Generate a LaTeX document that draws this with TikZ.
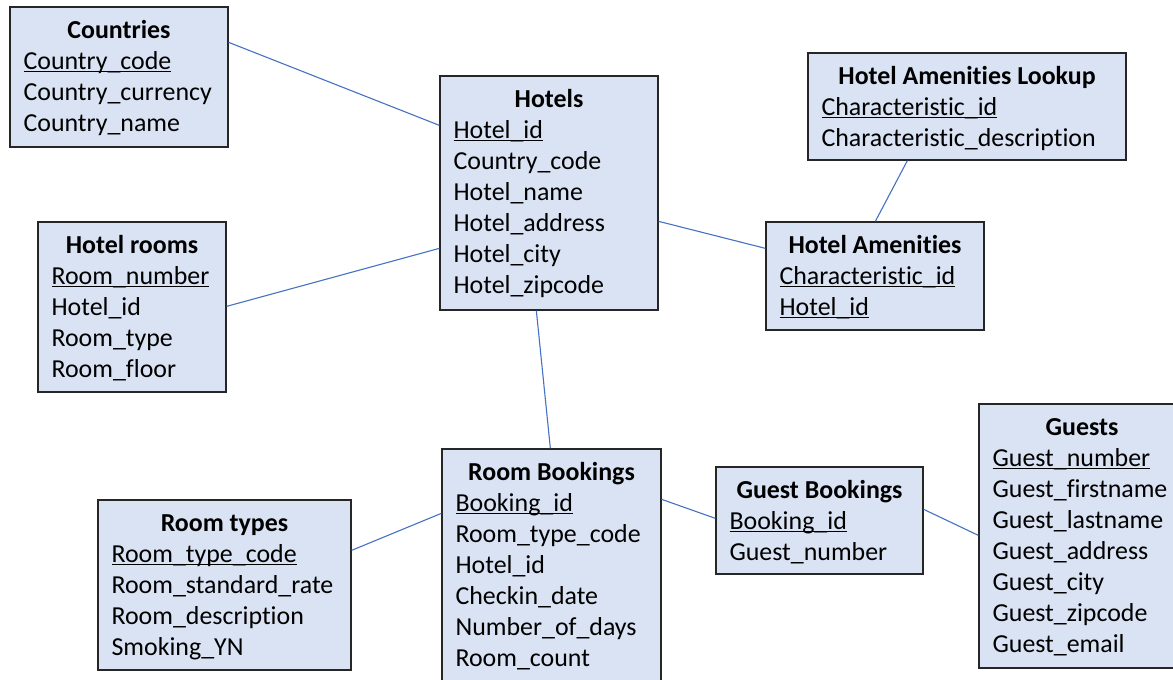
\documentclass[tikz,border=0pt]{standalone}
\usepackage{fontspec}
\setmainfont{Carlito}[Ligatures=NoCommon]
\usetikzlibrary{fit,calc}
\definecolor{entfill}{HTML}{DAE3F3}
\definecolor{entline}{HTML}{262626}
\definecolor{relline}{HTML}{4472C4}
\newcommand\entfont{\fontsize{25.9}{31}\selectfont}
% key attribute: underline sitting just below the baseline
\newcommand\keyattr[1]{\setbox0\hbox{#1}\rlap{\rule[-2.8pt]{\wd0}{1.5pt}}\box0}
\tikzset{
  entbox/.style={draw=entline, line width=1.3pt, fill=entfill, inner sep=0pt, rectangle},
  enttitle/.style={anchor=base, inner sep=0pt, font=\entfont\bfseries},
  entrow/.style={anchor=base west, inner sep=0pt, font=\entfont},
  rel/.style={draw=relline, line width=1.1pt},
}
% \entity{name}{left}{top}{right}{bottom}{title}{rows}
\newcommand\entity[7]{%
  \coordinate (#1-nw) at (#2,#3);
  \coordinate (#1-se) at (#4,#5);
  \node[entbox, fit=(#1-nw)(#1-se)] (#1) {};
  \node[enttitle] (#1-t0) at ([yshift=-32.5pt]#1.north) {#6};
  \foreach \row [count=\i] in {#7}
    \node[entrow] (#1-t\i) at ($(#1.north west)+(14,32+31*\i)$) {\row};
}
\begin{document}
\begin{tikzpicture}[x=1pt,y=-1pt]
\path[fill=white] (0,0) rectangle (1173,680);
\useasboundingbox (0,0) rectangle (1173,680);
\clip (0,0) rectangle (1173,680);

\entity{countries}{10}{7}{228}{147}{Countries}
  {{\keyattr{Country\_code}},Country\_currency,Country\_name}
\entity{hotels}{440}{76}{658}{310}{Hotels}
  {{\keyattr{Hotel\_id}},Country\_code,Hotel\_name,Hotel\_address,Hotel\_city,Hotel\_zipcode}
\entity{lookup}{808}{53}{1126}{160}{Hotel Amenities Lookup}
  {{\keyattr{Characteristic\_id}},Characteristic\_description}
\entity{amen}{766}{222}{984}{330}{Hotel Amenities}
  {{\keyattr{Characteristic\_id}},{\keyattr{Hotel\_id}}}
\entity{rooms}{38}{222}{226}{392}{Hotel rooms}
  {{\keyattr{Room\_number}},Hotel\_id,Room\_type,Room\_floor}
\entity{rtypes}{98}{500}{351}{670}{Room types}
  {{\keyattr{Room\_type\_code}},Room\_standard\_rate,Room\_description,Smoking\_YN}
\entity{rbook}{442}{449}{661}{692}{Room Bookings}
  {{\keyattr{Booking\_id}},Room\_type\_code,Hotel\_id,Checkin\_date,Number\_of\_days,Room\_count}
\entity{gbook}{716}{467}{923}{574}{Guest Bookings}
  {{\keyattr{Booking\_id}},Guest\_number}
\entity{guests}{979}{404}{1185}{668}{Guests}
  {{\keyattr{Guest\_number}},Guest\_firstname,Guest\_lastname,Guest\_address,Guest\_city,Guest\_zipcode,Guest\_email}

% relationships
\draw[rel] ([yshift=-36pt]countries.north east) -- ([yshift=-50pt]hotels.north west);
\draw[rel] ([yshift=-85pt]rooms.north east) -- ([yshift=-173pt]hotels.north west);
\draw[rel] ([yshift=-146pt]hotels.north east) -- ([yshift=-27pt]amen.north west);
\draw[rel] ([xshift=100pt]lookup.south west) -- ([xshift=110pt]amen.north west);
\draw[rel] ([xshift=97pt]hotels.south west) -- ([xshift=109pt]rbook.north west);
\draw[rel] ([yshift=-51pt]rtypes.north east) -- ([yshift=-65pt]rbook.north west);
\draw[rel] ([yshift=-51pt]rbook.north east) -- ([yshift=-52pt]gbook.north west);
\draw[rel] ([yshift=-43pt]gbook.north east) -- ([yshift=-132pt]guests.north west);
\end{tikzpicture}
\end{document}
